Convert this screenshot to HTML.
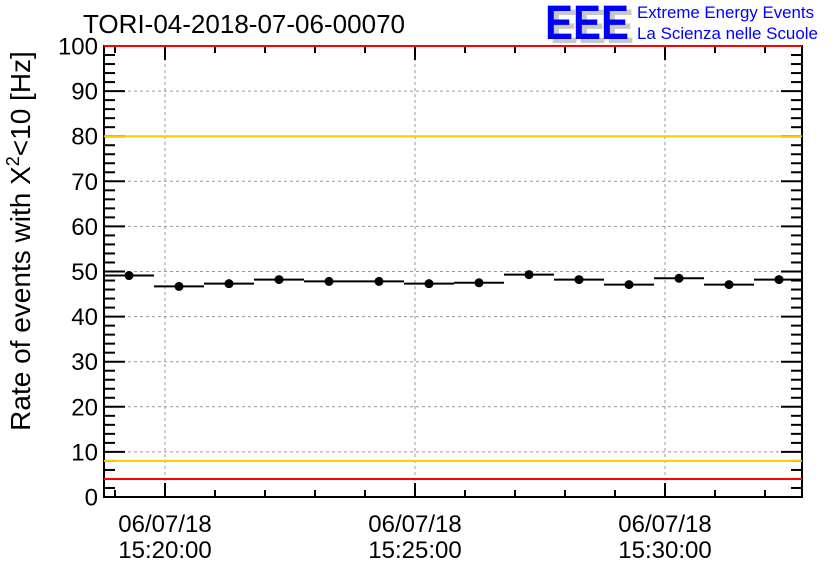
<!DOCTYPE html>
<html><head><meta charset="utf-8"><style>
body{margin:0;background:#fff}
svg text{font-family:"Liberation Sans",sans-serif}
</style></head><body>
<svg id="c" width="836" height="572" xmlns="http://www.w3.org/2000/svg">
<rect width="836" height="572" fill="#fff"/>
<text x="83" y="33" font-size="26" textLength="322" lengthAdjust="spacingAndGlyphs">TORI-04-2018-07-06-00070</text>
<g>
<text x="550" y="43" font-size="48" font-weight="bold" fill="#c8c8c8" textLength="84" lengthAdjust="spacingAndGlyphs">EEE</text>
<text x="545" y="39" font-size="48" font-weight="bold" fill="#0000ff" textLength="84" lengthAdjust="spacingAndGlyphs">EEE</text>
<text x="637" y="18" font-size="17" fill="#0000ff" textLength="177" lengthAdjust="spacingAndGlyphs">Extreme Energy Events</text>
<text x="637" y="39" font-size="17" fill="#0000ff" textLength="181" lengthAdjust="spacingAndGlyphs">La Scienza nelle Scuole</text>
</g>
<g id="grid"></g><g id="axes"></g><g id="refs"></g><g id="marks"></g>
<text transform="translate(30,241) rotate(-90)" text-anchor="middle" font-size="28">Rate of events with X<tspan dy="-11" font-size="18">2</tspan><tspan dy="11">&lt;10 [Hz]</tspan></text>
</svg>
<script>
const values=[49.1,46.7,47.3,48.2,47.8,47.8,47.3,47.5,49.3,48.2,47.1,48.5,47.1,48.2];
const yTicks=[0,10,20,30,40,50,60,70,80,90,100];
const xTickLabels=[["06/07/18","15:20:00"],["06/07/18","15:25:00"],["06/07/18","15:30:00"]];
const xTickMinutes=[0,5,10];
const refLines=[{v:100,c:"#ff0000"},{v:80,c:"#ffcc00"},{v:8,c:"#ffcc00"},{v:4,c:"#ff0000"}];
const binStart=-1.22; // minutes relative to 15:20:00
const L=104,R=802,T=46,B=497;
const y=v=>B-(v/100)*(B-T);
const x=m=>165+m*50.0;
const NS="http://www.w3.org/2000/svg";
function mk(p,t,a){const e=document.createElementNS(NS,t);for(const k in a)e.setAttribute(k,a[k]);document.getElementById(p).appendChild(e);return e;}
yTicks.forEach(v=>{if(v>0&&v<100){const e=mk('grid','line',{x1:L,x2:R,y1:y(v),y2:y(v),stroke:'#999','stroke-dasharray':'3,3'});

}});
xTickMinutes.forEach(m=>{const e=mk('grid','line',{x1:x(m),x2:x(m),y1:T,y2:B,stroke:'#999','stroke-dasharray':'3,3'});

});
const f=mk('axes','rect',{x:L,y:T,width:R-L,height:B-T,fill:'none',stroke:'#000','stroke-width':2});


for(let v=0;v<=100;v+=2){const maj=v%10===0;const len=maj?21:11;
mk('axes','line',{x1:L,x2:L+len,y1:y(v),y2:y(v),stroke:'#000','stroke-width':2});
mk('axes','line',{x1:R,x2:R-len,y1:y(v),y2:y(v),stroke:'#000','stroke-width':2});}
yTicks.forEach(v=>{const t=mk('axes','text',{x:L-6,y:y(v)+8.5,'text-anchor':'end','font-size':24});t.textContent=v;

});
for(let m=-1;m<=12;m++){const px=x(m);if(px<L||px>R)continue;const maj=m%5===0;const len=maj?14:7;
mk('axes','line',{x1:px,x2:px,y1:B,y2:B-len,stroke:'#000','stroke-width':2});
mk('axes','line',{x1:px,x2:px,y1:T,y2:T+len,stroke:'#000','stroke-width':2});}
xTickLabels.forEach((lb,i)=>{const px=x(xTickMinutes[i]);
const t1=mk('axes','text',{x:px,y:532,'text-anchor':'middle','font-size':24});t1.textContent=lb[0];


const t2=mk('axes','text',{x:px,y:558,'text-anchor':'middle','font-size':24});t2.textContent=lb[1];

});
refLines.forEach(r=>{const e=mk('refs','line',{x1:L,x2:R,y1:y(r.v),y2:y(r.v),stroke:r.c,'stroke-width':2});

});
values.forEach((v,i)=>{const x0=Math.max(L,x(binStart+i)),x1=Math.min(R,x(binStart+i+1)),xc=x(binStart+i+0.5);
const l=mk('marks','line',{x1:x0,x2:x1,y1:y(v),y2:y(v),stroke:'#000','stroke-width':2});


const c=mk('marks','circle',{cx:xc,cy:y(v),r:4.5,fill:'#000'});

});
</script>
</body></html>
